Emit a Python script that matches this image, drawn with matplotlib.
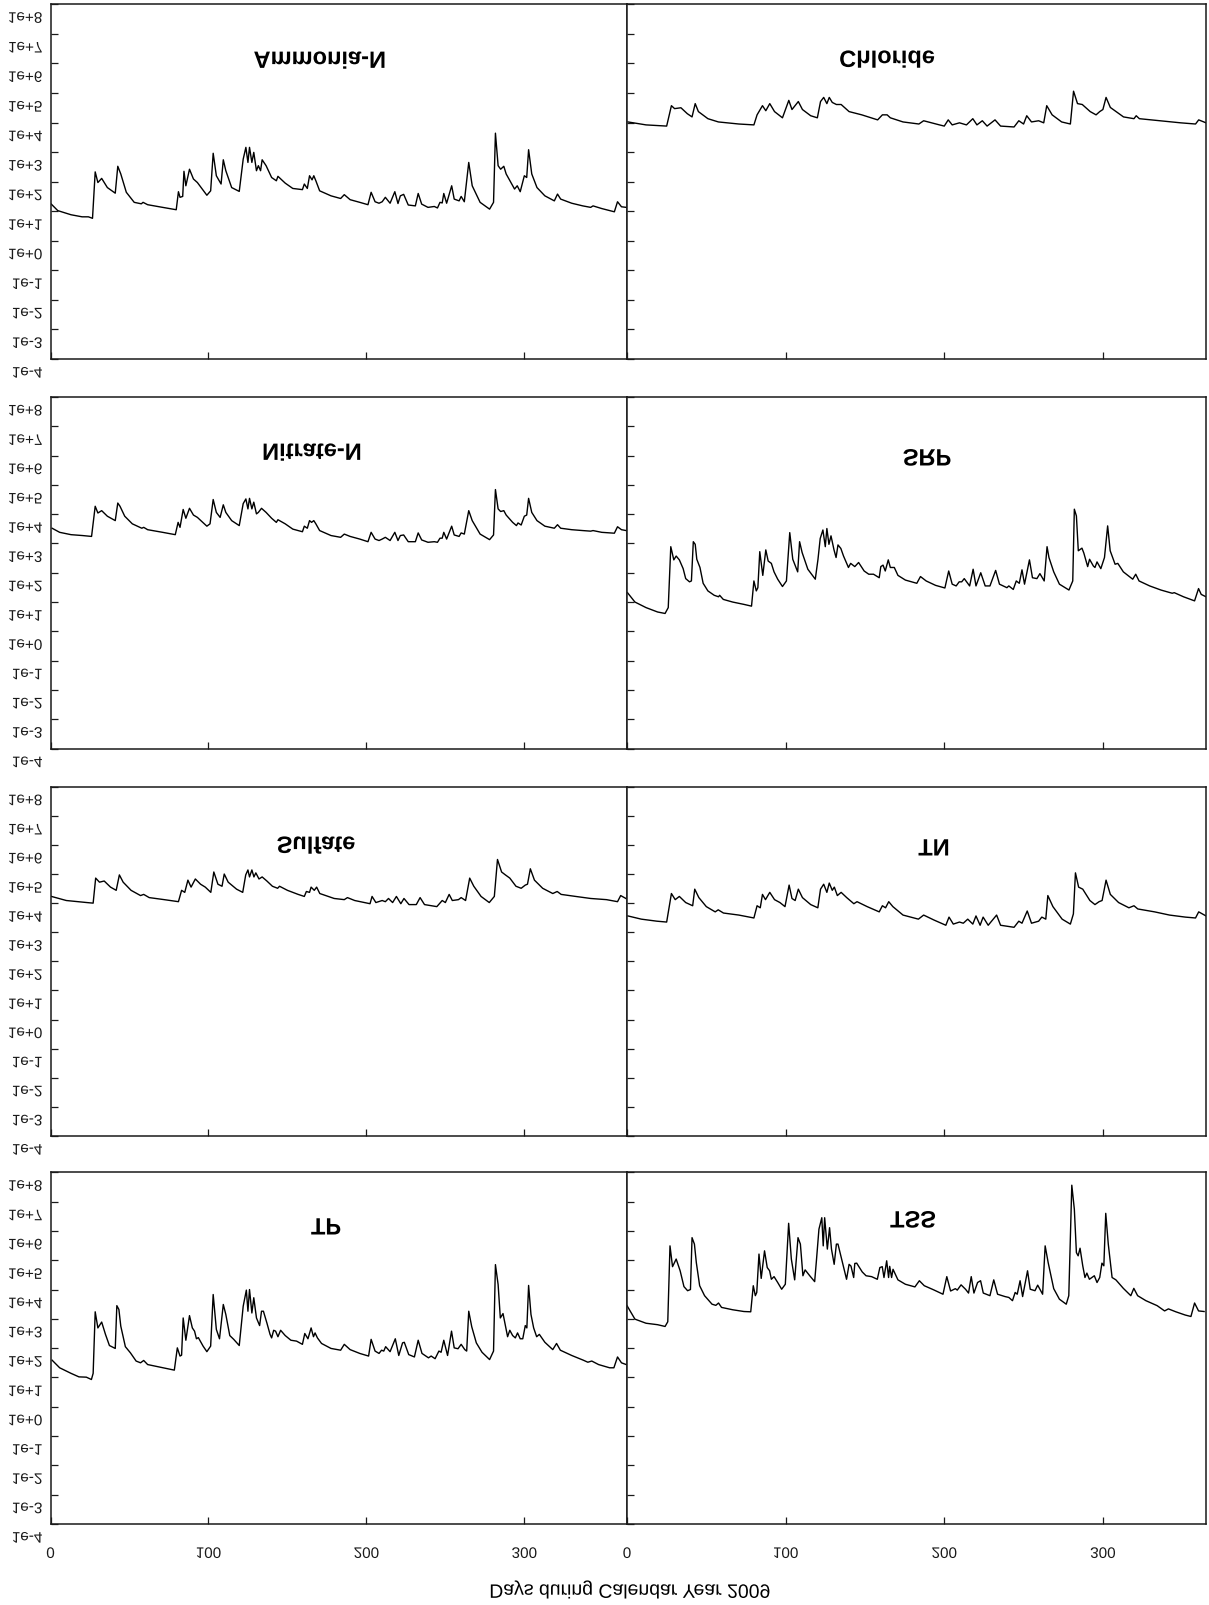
import matplotlib
matplotlib.use('Agg')
import matplotlib.pyplot as plt
import numpy as np
from matplotlib.patheffects import AbstractPathEffect
from matplotlib.transforms import Affine2D
from matplotlib.ticker import NullLocator

plt.rcParams['font.family'] = ['Liberation Sans', 'DejaVu Sans']

# ---------------- data (day of year, log10 of load) ----------------
ammonia = [(0.5,1.24),(4.6,1.02),(13,0.88),(20,0.81),(24,0.81),(26.6,0.76),(28.3,2.33),(30,1.97),(32.4,2.11),(36,1.80),(41,1.61),(42.6,2.52),(44.5,2.26),(48,1.64),(53,1.30),(57.5,1.25),(58.6,1.30),(61.5,1.22),(71,1.13),(79.6,1.05),(81,1.66),(82,1.47),(83.7,1.50),(84.5,2.35),(85.7,1.86),(88,2.42),(90.5,2.09),(93,1.97),(99,1.54),(101.4,1.69),(103,2.96),(105,2.20),(108,1.92),(109.4,2.74),(111,2.37),(114.7,1.80),(119.5,1.67),(122,2.76),(123.7,3.16),(125,2.65),(126,3.16),(127.5,2.65),(128.7,2.99),(130.4,2.37),(131.6,2.54),(133,2.37),(134,2.74),(136.5,2.54),(140,2.14),(143,2.03),(144,2.18),(148.6,1.95),(153.4,1.77),(159.5,1.73),(160.7,1.92),(162.6,1.77),(164,2.20),(165.6,2.06),(166.7,2.20),(168,2.03),(170.4,1.69),(177.6,1.52),(183.7,1.43),(186,1.56),(189.7,1.39),(195.8,1.30),(201,1.22),(203,1.64),(205.5,1.32),(208,1.27),(210,1.32),(212,1.47),(215,1.27),(218,1.66),(220,1.26),(221.5,1.52),(223.6,1.57),(226.5,1.21),(231,1.18),(232.8,1.60),(235,1.24),(239,1.13),(243,1.16),(245,1.11),(246.6,1.30),(248,1.28),(249,1.60),(250.8,1.27),(254,1.86),(255.6,1.41),(258.7,1.35),(260,1.50),(262,1.32),(264.8,2.65),(267,1.86),(272,1.30),(278,1.07),(280.5,1.30),(281.7,3.64),(283.4,2.54),(285,2.42),(287,2.52),(288.5,2.26),(293.8,1.75),(295.5,1.86),(297.4,1.66),(300,2.20),(301.5,2.14),(302.7,3.08),(304.7,2.26),(308,1.80),(313,1.52),(319,1.35),(321,1.58),(323,1.41),(330,1.27),(337,1.18),(342,1.13),(343.5,1.18),(349,1.09),(357,0.98),(359,1.32),(361.5,1.15),(364.5,1.13)]

chloride = [(0.6,4.02),(12,3.92),(25,3.88),(28,4.57),(30,4.47),(34,4.50),(38,4.30),(41,4.19),(43,4.64),(45,4.37),(51,4.13),(57.6,4.02),(70.5,3.95),(80,3.92),(82,4.26),(85.4,4.57),(87.5,4.40),(90,4.64),(93,4.37),(98,4.16),(102,4.75),(104,4.44),(108,4.71),(110.6,4.44),(115.8,4.23),(120,4.16),(122,4.71),(124,4.85),(126,4.64),(127.5,4.85),(129.4,4.68),(132,4.61),(135,4.61),(140,4.37),(148,4.26),(158,4.09),(161,4.26),(164,4.26),(166,4.16),(174,4.02),(184,3.95),(187,4.06),(197,3.92),(200,3.88),(202.5,4.09),(205,3.92),(209.6,3.99),(214,3.92),(218,4.13),(220.6,3.92),(224,4.06),(227,3.88),(232,4.09),(235.5,3.88),(244,3.85),(247,4.06),(250,3.95),(252,4.23),(255,4.02),(259.5,4.06),(262.7,3.99),(264.6,4.57),(268,4.26),(274,4.02),(279.5,3.95),(281.5,5.06),(284,4.64),(287,4.61),(292,4.37),(295.7,4.26),(298,4.37),(300,4.44),(302,4.85),(304.7,4.51),(313,4.19),(319.6,4.13),(321,4.23),(323,4.13),(336,4.06),(349,3.99),(358.4,3.95),(360.4,4.09),(365,3.99)]

nitrate = [(1,3.52),(5.8,3.38),(13,3.30),(20.3,3.27),(26,3.24),(28.3,4.27),(30,4.04),(32.4,4.12),(36,3.93),(41,3.78),(42.6,4.38),(44,4.27),(47,3.93),(51.8,3.67),(57.8,3.52),(59,3.55),(61.5,3.47),(71,3.38),(79,3.30),(80.8,3.72),(82,3.55),(84,4.16),(85.7,3.86),(88,4.20),(90.5,3.97),(93,3.89),(99,3.59),(101,3.67),(103,4.50),(105,4.06),(107.4,3.89),(109.4,4.32),(111,4.06),(114.7,3.78),(119.5,3.61),(122,4.36),(123.7,4.52),(125,4.18),(126,4.54),(127.5,4.18),(128.7,4.41),(130.4,4.01),(131.6,4.06),(133.6,4.20),(136.5,4.06),(140,3.86),(143,3.72),(144,3.81),(148.6,3.67),(153.4,3.49),(159.5,3.40),(160.7,3.59),(162.6,3.52),(164,3.78),(165.3,3.72),(166.7,3.78),(168,3.67),(170.4,3.44),(177.6,3.27),(183.7,3.21),(186,3.32),(189.7,3.24),(195.8,3.15),(201,3.06),(203,3.38),(205.5,3.15),(208,3.10),(210,3.15),(212,3.21),(215,3.10),(218,3.38),(220,3.10),(221.5,3.27),(223.6,3.29),(226.5,3.06),(231,3.06),(232.8,3.36),(235,3.12),(239,3.04),(243,3.06),(245,3.04),(246.6,3.18),(248,3.18),(249,3.38),(250.8,3.15),(254,3.59),(255.6,3.29),(258.7,3.24),(260,3.36),(262,3.32),(264.8,4.12),(267,3.78),(272,3.32),(278,3.13),(280.5,3.29),(281.7,4.84),(283.4,4.18),(285,4.09),(287,4.12),(288.5,3.97),(292.6,3.72),(295,3.61),(296,3.70),(298,3.63),(300,3.93),(301.5,3.97),(302.7,4.54),(304.7,4.06),(308,3.78),(313,3.59),(319,3.52),(321,3.64),(323,3.52),(330,3.47),(337,3.44),(342,3.42),(343.5,3.44),(349,3.38),(357,3.35),(359,3.57),(361.5,3.47),(364.5,3.44)]

srp = [(0.3,1.32),(5,1.00),(12,0.81),(19.3,0.66),(24,0.61),(26,0.81),(27.6,2.89),(29.5,2.44),(31,2.57),(33,2.44),(35.4,2.14),(37,1.80),(39.4,1.69),(40.6,1.72),(41.8,3.06),(43,2.97),(44,2.46),(46,2.18),(48,1.64),(51,1.38),(55,1.23),(57.7,1.18),(58.4,1.23),(60.7,1.09),(66.6,1.00),(73.7,0.92),(78.5,0.86),(80,1.72),(81.5,1.38),(82.5,1.49),(83.7,2.72),(85.6,1.91),(87.5,2.78),(89,2.40),(91,2.32),(92.7,2.03),(95,1.78),(98,1.53),(100.5,1.72),(102.6,3.37),(104.5,2.46),(107.6,2.03),(108.8,3.06),(110.4,2.69),(114,2.12),(118.7,1.78),(120.4,2.46),(121.8,3.17),(123.5,3.46),(125,2.89),(126,3.51),(127.3,2.97),(128.6,3.26),(130.5,2.78),(131.8,2.52),(133,2.95),(134.8,2.83),(136.5,2.57),(139.6,2.18),(141,2.32),(143.6,2.21),(146,2.35),(149.5,2.06),(152.4,1.95),(155.4,1.95),(159,1.83),(160,2.21),(161.4,2.26),(162.8,2.06),(164.7,2.44),(166,2.18),(168.5,2.18),(170.8,1.91),(175.5,1.75),(182.7,1.64),(185,1.87),(188.6,1.72),(194.5,1.57),(200.4,1.48),(202.8,2.06),(205,1.61),(207.5,1.55),(209.4,1.69),(211,1.69),(212.6,1.80),(216,1.55),(218.2,2.12),(220,1.55),(223,2.00),(225.8,1.55),(228.8,1.55),(232.4,2.08),(234.8,1.61),(239.5,1.49),(240.7,1.55),(243.5,1.43),(245.4,1.72),(247.3,1.64),(249,2.10),(250.6,1.61),(253.7,2.44),(255.6,1.83),(258.4,1.80),(260.3,1.97),(263,1.72),(264.8,2.89),(266,2.52),(269,2.03),(272.6,1.61),(278.6,1.41),(281,1.72),(282,4.17),(283.3,3.94),(284.5,2.75),(286.8,2.84),(288,2.67),(290.4,2.21),(291.6,2.46),(294,2.23),(295,2.18),(296.3,2.37),(298.7,2.14),(301,2.52),(303,3.60),(304.6,2.75),(307.7,2.29),(309.4,2.32),(312.9,2.03),(318.8,1.78),(320.7,1.95),(322.8,1.72),(329.5,1.55),(336.6,1.41),(343.7,1.30),(345,1.32),(350.8,1.18),(357.8,1.04),(360.3,1.46),(362,1.26),(365,1.18)]

sulfate = [(0.6,4.23),(10,4.09),(23,4.02),(27,4.00),(28.6,4.86),(31,4.72),(34,4.76),(38,4.55),(41.6,4.44),(43.6,4.97),(46,4.72),(51,4.44),(57,4.26),(59,4.30),(62.5,4.19),(72,4.12),(81,4.05),(83,4.44),(85,4.37),(87,4.79),(89,4.55),(91.7,4.83),(95,4.65),(98,4.55),(101.5,4.37),(103.4,5.07),(106,4.65),(108.6,4.58),(110,5.00),(112.5,4.72),(117.8,4.48),(121.7,4.37),(123.6,4.97),(125,5.14),(126,4.90),(127.5,5.14),(128.8,4.90),(130,5.04),(132,4.83),(134,4.90),(137,4.76),(140.5,4.58),(143.8,4.51),(145,4.58),(150,4.44),(156.8,4.30),(160.7,4.23),(162,4.40),(164,4.37),(165,4.55),(167,4.44),(168.5,4.55),(170.5,4.33),(179.6,4.16),(186,4.12),(188,4.19),(192.6,4.09),(202.3,3.98),(203.6,4.23),(206,4.02),(210,4.09),(212,4.05),(214,4.16),(216.6,4.02),(219,4.23),(221.8,3.98),(223.8,4.16),(227,3.95),(231.6,3.95),(234,4.19),(236.8,3.95),(244.6,3.88),(248,4.09),(250,4.02),(252.4,4.30),(254.4,4.09),(258.3,4.12),(260,4.19),(262.8,4.09),(265.4,4.86),(268,4.58),(272.6,4.23),(277.8,4.02),(281,4.23),(283,5.50),(285.6,5.07),(288,4.97),(290.8,4.86),(294.7,4.58),(298,4.51),(300.6,4.62),(302,4.65),(303.8,5.18),(306.4,4.79),(311.6,4.51),(318,4.33),(320.8,4.40),(323.3,4.30),(332.5,4.23),(342,4.16),(352,4.12),(359,4.05),(361,4.26),(364.3,4.16)]

tn = [(0.6,3.56),(9,3.45),(18.8,3.38),(25,3.35),(28,4.33),(30.4,4.12),(33,4.23),(37,4.02),(41.4,3.91),(42.7,4.48),(45.3,4.19),(50,3.88),(55.6,3.70),(57.5,3.77),(60.8,3.66),(70.5,3.59),(80,3.49),(82,3.91),(84,3.84),(85.4,4.30),(87.3,4.12),(90,4.37),(93,4.12),(96.4,4.02),(99.6,3.88),(102.2,4.62),(104,4.16),(106,4.09),(108,4.48),(110.6,4.19),(115.8,3.95),(120.3,3.84),(122,4.48),(124,4.65),(126,4.37),(127.5,4.69),(129.4,4.44),(130.7,4.55),(132.6,4.26),(135,4.37),(138.5,4.19),(143,3.98),(145,4.05),(151.4,3.88),(159,3.70),(161,3.91),(163,3.84),(165,4.05),(167.6,3.88),(174,3.59),(183.7,3.45),(187,3.59),(193.5,3.42),(201,3.24),(203,3.52),(205.7,3.28),(209.6,3.35),(212,3.31),(214.8,3.45),(218,3.28),(220,3.56),(222.6,3.24),(224.5,3.52),(227.7,3.24),(233,3.59),(235.5,3.24),(244,3.17),(247,3.38),(249,3.31),(252.3,3.73),(255,3.31),(259.5,3.38),(261.5,3.52),(264,3.45),(265.3,4.26),(268.5,3.88),(274.3,3.45),(279.5,3.28),(281.4,3.63),(282.7,5.04),(284.7,4.55),(287.3,4.48),(291.8,4.09),(295,3.95),(297.6,4.05),(299.5,4.09),(302,4.79),(304.7,4.30),(309.9,4.02),(316.4,3.84),(319.6,3.91),(322,3.80),(332.6,3.70),(342,3.59),(352,3.52),(358.4,3.49),(360.4,3.70),(365,3.56)]

tp = [(1,1.59),(5.8,1.33),(13,1.14),(18,1.02),(22.7,1.01),(25.9,0.93),(27,1.14),(28.3,3.24),(30,2.69),(32.4,2.89),(34.8,2.47),(37.3,2.09),(41,1.99),(42,3.45),(43.3,3.32),(44.5,2.75),(47.4,2.05),(50.6,1.84),(54.2,1.56),(57,1.50),(59,1.58),(61.5,1.44),(68.7,1.36),(78.4,1.25),(80.3,2.01),(82,1.73),(83,1.76),(84,3.03),(85.7,2.27),(88,3.11),(89.8,2.69),(91.2,2.58),(92.4,2.32),(93.6,2.36),(96.6,2.07),(99,1.88),(101.4,2.07),(103,3.83),(105,2.64),(107,2.32),(109.4,3.49),(111,3.15),(113.5,2.43),(116,2.30),(119.5,2.09),(122,3.43),(124,3.98),(125,3.26),(126,4.00),(127.5,3.20),(128.7,3.72),(130.4,3.03),(132.4,2.77),(133.6,3.26),(134.8,3.26),(137,2.86),(139,2.47),(140,2.35),(141.3,2.61),(142.5,2.58),(144,2.39),(145.7,2.61),(148.6,2.43),(152.2,2.27),(155.8,2.24),(159.5,2.13),(161,2.50),(163,2.32),(165,2.69),(166.5,2.39),(167.5,2.52),(169,2.35),(171.6,2.16),(177.6,1.99),(183.7,1.93),(186,2.13),(189.7,1.95),(195.8,1.82),(201.4,1.73),(203,2.30),(205.5,1.90),(208,1.82),(209.6,1.93),(211,1.90),(212.2,2.05),(215,1.88),(218.3,2.32),(220.5,1.75),(222.9,2.18),(224,2.20),(226.8,1.78),(230.4,1.70),(232.8,2.27),(235.2,1.82),(239.3,1.67),(241,1.73),(243.5,1.64),(245.9,1.90),(247.3,1.86),(249,2.27),(251.4,1.75),(253.9,2.58),(255.6,2.01),(258,1.98),(260,2.13),(262.3,1.95),(263.5,1.90),(264.8,3.26),(266.7,2.73),(269.6,2.18),(273.2,1.86),(278,1.61),(280.5,1.90),(281.7,4.85),(283.4,4.17),(284.8,3.03),(286.5,3.18),(287.7,2.86),(289.4,2.39),(290.8,2.61),(292.6,2.43),(294.3,2.35),(295.7,2.52),(297.4,2.32),(299,2.32),(300.6,2.77),(301.6,2.69),(302.7,4.14),(304.2,3.15),(305.9,2.69),(307.8,2.39),(309.5,2.47),(313,2.20),(318,1.95),(320.4,2.16),(322.8,1.93),(330,1.75),(337.3,1.59),(340.2,1.52),(342.7,1.56),(347,1.44),(354,1.33),(356.7,1.33),(359,1.70),(361.5,1.50),(364.5,1.44)]

tss = [(0,3.45),(5,2.99),(12,2.85),(19.3,2.80),(24,2.74),(25.7,2.90),(27.1,5.49),(28.7,4.78),(31,5.04),(33.5,4.64),(35.9,4.10),(38.2,3.96),(40,4.00),(41,5.77),(42.5,5.55),(43.7,4.92),(45.8,4.13),(48.9,3.79),(53.6,3.50),(56,3.46),(57.7,3.54),(59.6,3.39),(66.6,3.31),(73.7,3.25),(78,3.24),(79.6,4.13),(80.9,3.79),(81.8,3.90),(83.2,5.21),(84.6,4.38),(86.7,5.32),(88.4,4.75),(89.9,4.64),(91,4.35),(92.7,4.44),(95,4.24),(97.5,4.01),(99.8,4.18),(101.9,6.26),(103.6,5.04),(105.7,4.33),(107.8,5.77),(109.3,5.55),(110.9,4.47),(112.3,4.67),(115.2,4.47),(118.3,4.27),(119.4,4.98),(121,6.06),(122.8,6.45),(123.7,5.49),(124.6,6.45),(126.3,5.38),(127.7,6.11),(128.9,5.38),(130.6,4.86),(132,5.55),(133,5.55),(135.3,5.04),(138.4,4.35),(140,4.86),(141.2,4.80),(142.9,4.41),(143.6,4.89),(144.8,4.90),(148.3,4.60),(150.7,4.47),(154.2,4.44),(157.8,4.35),(159.4,4.75),(160.9,4.78),(162,4.41),(163.7,4.98),(164.9,4.41),(165.6,4.79),(166.8,4.41),(167.7,4.69),(170.8,4.33),(175.5,4.18),(181.5,4.09),(184.3,4.30),(187.4,4.13),(193.3,3.99),(199.2,3.84),(201.6,4.44),(204,3.95),(207,4.03),(208.2,3.98),(210.6,4.16),(213.4,4.01),(215.3,3.88),(217,4.44),(218.7,3.88),(221,4.24),(222.9,4.30),(224.6,3.88),(228.8,3.79),(231.2,4.33),(233.6,3.84),(238.3,3.76),(240.7,3.73),(243,3.62),(244.7,3.90),(246,3.84),(247.8,4.30),(249.4,3.76),(252.5,4.64),(254.2,4.01),(257.2,3.96),(258.9,4.15),(262,3.84),(263.6,5.49),(265.5,4.92),(269,4.03),(272.6,3.67),(276.9,3.50),(278.5,3.79),(280.4,7.56),(282,6.74),(283.3,5.26),(284.4,5.15),(285.6,5.41),(287.3,4.81),(288.7,4.41),(289.9,4.56),(291.5,4.35),(293,4.41),(294.6,4.47),(296.3,4.24),(298,4.41),(299.4,4.90),(300.6,4.81),(301.8,6.60),(303.4,5.55),(305.8,4.41),(308.2,4.33),(312.9,4.04),(317.6,3.79),(319.5,4.04),(321.9,3.79),(327.1,3.62),(334.2,3.45),(338.9,3.27),(341.3,3.34),(346,3.24),(351.9,3.13),(355.5,3.08),(357.8,3.54),(360.3,3.27),(363.8,3.25)]

series = [ammonia, chloride, nitrate, srp, sulfate, tn, tp, tss]
titles = ['Ammonia-N', 'Chloride', 'Nitrate-N', 'SRP', 'Sulfate', 'TN', 'TP', 'TSS']
xtick_vals = [0, 100, 200, 300]
xtick_labels = ['0', '100', '200', '300']
ytick_exps = list(range(8, -5, -1))
ytick_labels = ['1e+8', '1e+7', '1e+6', '1e+5', '1e+4', '1e+3', '1e+2',
                '1e+1', '1e+0', '1e-1', '1e-2', '1e-3', '1e-4']
xlabel_text = 'Days during Calendar Year 2009'


# ---------------- vertically mirrored text (still real Text artists) -------
class FlipV(AbstractPathEffect):
    """Mirror glyphs top-to-bottom about their own centre, optional shift (px)."""
    def __init__(self, dy=0.0):
        super().__init__()
        self._dy = dy

    def draw_path(self, renderer, gc, tpath, affine, rgbFace=None):
        ext = tpath.get_extents()
        flip = Affine2D().scale(1.0, -1.0).translate(0.0, ext.y0 + ext.y1)
        t = flip + affine + Affine2D().translate(0.0, -self._dy)
        renderer.draw_path(gc, tpath, t, rgbFace)


W, H = 1209, 1606
fig = plt.figure(figsize=(W / 100, H / 100), dpi=100)

rows_px = [(5.3, 360.0), (398.0, 749.5), (787.7, 1137.0), (1173.3, 1525.0)]
cols_px = [(50.5, 627.0), (627.0, 1206.0)]
title_px = [(320, 63), (887, 62), (312, 455), (927, 460),
            (316, 848), (934, 850), (326, 1229), (913, 1222)]

for i, (data, title) in enumerate(zip(series, titles)):
    r, c = divmod(i, 2)
    yt, yb = rows_px[r]
    x0, x1 = cols_px[c]
    ax = fig.add_axes([x0 / W, 1 - yb / H, (x1 - x0) / W, (yb - yt) / H])
    days = [d for d, v in data]
    vals = [10.0 ** v for d, v in data]
    ax.plot(days, vals, color='black', lw=1.0)
    ax.set_yscale('log')
    ax.set_ylim(1e-4, 1e8)
    ax.set_xlim(0, 365)
    ax.yaxis.set_minor_locator(NullLocator())
    ax.xaxis.set_minor_locator(NullLocator())
    ax.set_yticks([10.0 ** e for e in ytick_exps])
    ax.set_xticks(xtick_vals)
    for sp in ax.spines.values():
        sp.set_linewidth(1.1)
        sp.set_color('#1a1a1a')
    ax.tick_params(axis='both', direction='in', length=5, width=0.9,
                   colors='#1a1a1a')
    ax.tick_params(axis='y', pad=5.9, labelsize=11)
    ax.tick_params(axis='x', pad=16.5, labelsize=11)
    if c == 0:
        ax.set_yticklabels(ytick_labels)
        for lbl in ax.get_yticklabels():
            lbl.set_path_effects([FlipV(13)])
    else:
        ax.tick_params(axis='y', labelleft=False)
    if r == 3:
        ax.set_xticklabels(xtick_labels)
        for lbl in ax.get_xticklabels():
            lbl.set_path_effects([FlipV(0)])
    else:
        ax.tick_params(axis='x', labelbottom=False)
    tx, ty = title_px[i]
    fig.text(tx / W, 1 - ty / H, title, ha='center', va='center',
             fontsize=17, fontweight='bold', path_effects=[FlipV(0)])

fig.text(631 / W, 1 - 1591 / H, xlabel_text, ha='center', va='center',
         fontsize=14, path_effects=[FlipV(0)])

fig.savefig('out.png', dpi=100)
